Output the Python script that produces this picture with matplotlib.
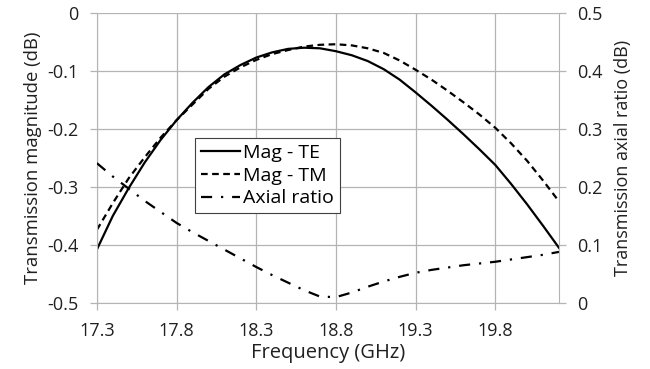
import numpy as np
import matplotlib.pyplot as plt

plt.rcParams['font.family'] = ['Open Sans', 'DejaVu Sans']

# frequency points (GHz)
freq = [17.3, 17.4, 17.5, 17.6, 17.7, 17.8, 17.9, 18.0, 18.1, 18.2,
        18.3, 18.4, 18.5, 18.6, 18.7, 18.8, 18.9, 19.0, 19.1, 19.2,
        19.3, 19.4, 19.5, 19.6, 19.7, 19.8, 19.9, 20.0, 20.1, 20.2]

# transmission magnitude, TE (dB)
mag_te = [-0.408, -0.350, -0.302, -0.258, -0.219, -0.185, -0.155, -0.128, -0.106, -0.090,
          -0.077, -0.068, -0.062, -0.060, -0.061, -0.066, -0.073, -0.083, -0.097, -0.115,
          -0.137, -0.160, -0.184, -0.209, -0.235, -0.262, -0.295, -0.330, -0.367, -0.405]

# transmission magnitude, TM (dB)
mag_tm = [-0.374, -0.328, -0.285, -0.249, -0.215, -0.185, -0.158, -0.131, -0.110, -0.094,
          -0.081, -0.071, -0.064, -0.058, -0.055, -0.054, -0.056, -0.061, -0.069, -0.082,
          -0.098, -0.115, -0.134, -0.154, -0.175, -0.198, -0.225, -0.255, -0.289, -0.325]

# axial ratio (dB), right axis
axial = [0.241, 0.218, 0.197, 0.176, 0.157, 0.138, 0.122, 0.107, 0.092, 0.077,
         0.062, 0.048, 0.035, 0.022, 0.011, 0.010, 0.018, 0.028, 0.037, 0.045,
         0.052, 0.057, 0.061, 0.065, 0.068, 0.071, 0.075, 0.079, 0.083, 0.088]

xticks = [17.3, 17.8, 18.3, 18.8, 19.3, 19.8]
grid_c = '#b4b4b4'
txt_c = '#202020'

fig = plt.figure(figsize=(6.5, 3.69), dpi=100)
ax = fig.add_axes([0.149, 0.179, 0.711, 0.786])
ax2 = ax.twinx()

l1, = ax.plot(freq, mag_te, color='black', lw=1.6, label='Mag - TE')
l2, = ax.plot(freq, mag_tm, color='black', lw=1.6, ls=(0, (3, 2)), label='Mag - TM')
l3, = ax2.plot(freq, axial, color='black', lw=1.6, ls=(0, (5, 4, 1, 4)), label='Axial ratio')

ax.set_xlim(17.3, 20.2)
ax.set_ylim(-0.5, 0)
ax2.set_ylim(0, 0.5)
ax.set_xticks(xticks)
ax.set_xticklabels([f'{t:.1f}' for t in xticks])
ax.set_yticks(np.arange(-0.5, 0.01, 0.1))
ax.set_yticklabels(['-0.5', '-0.4', '-0.3', '-0.2', '-0.1', '0'])
ax2.set_yticks(np.arange(0, 0.51, 0.1))
ax2.set_yticklabels(['0', '0.1', '0.2', '0.3', '0.4', '0.5'])

ax.grid(True, color=grid_c, lw=0.9)
ax.set_axisbelow(True)
for a in (ax, ax2):
    for s in a.spines.values():
        s.set_visible(False)
    a.tick_params(colors=grid_c, labelcolor=txt_c, labelsize=13, length=5, width=0.9)
ax.tick_params(axis='x', pad=9)
ax.tick_params(axis='y', pad=8)
ax2.tick_params(axis='y', pad=8)
ax.spines['left'].set_visible(True)
ax.spines['left'].set_color(grid_c)
ax.spines['bottom'].set_visible(True)
ax.spines['bottom'].set_color(grid_c)
ax2.spines['right'].set_visible(True)
ax2.spines['right'].set_color(grid_c)

ax.set_xlabel('Frequency (GHz)', fontsize=14.5, color=txt_c, labelpad=2)
ax.set_ylabel('Transmission magnitude (dB)', fontsize=13.3, color=txt_c, labelpad=4)
ax2.set_ylabel('Transmission axial ratio (dB)', fontsize=13, color=txt_c, labelpad=8)

leg = ax2.legend(handles=[l1, l2, l3], loc='upper left', bbox_to_anchor=(0.212, 0.569),
                 fontsize=14, frameon=True, fancybox=False, framealpha=1,
                 edgecolor='#404040', handlelength=2.0, handletextpad=0.2,
                 borderpad=0.3, labelspacing=0.25, borderaxespad=0)
leg.get_frame().set_linewidth(0.8)

fig.savefig('out.png', dpi=100)
